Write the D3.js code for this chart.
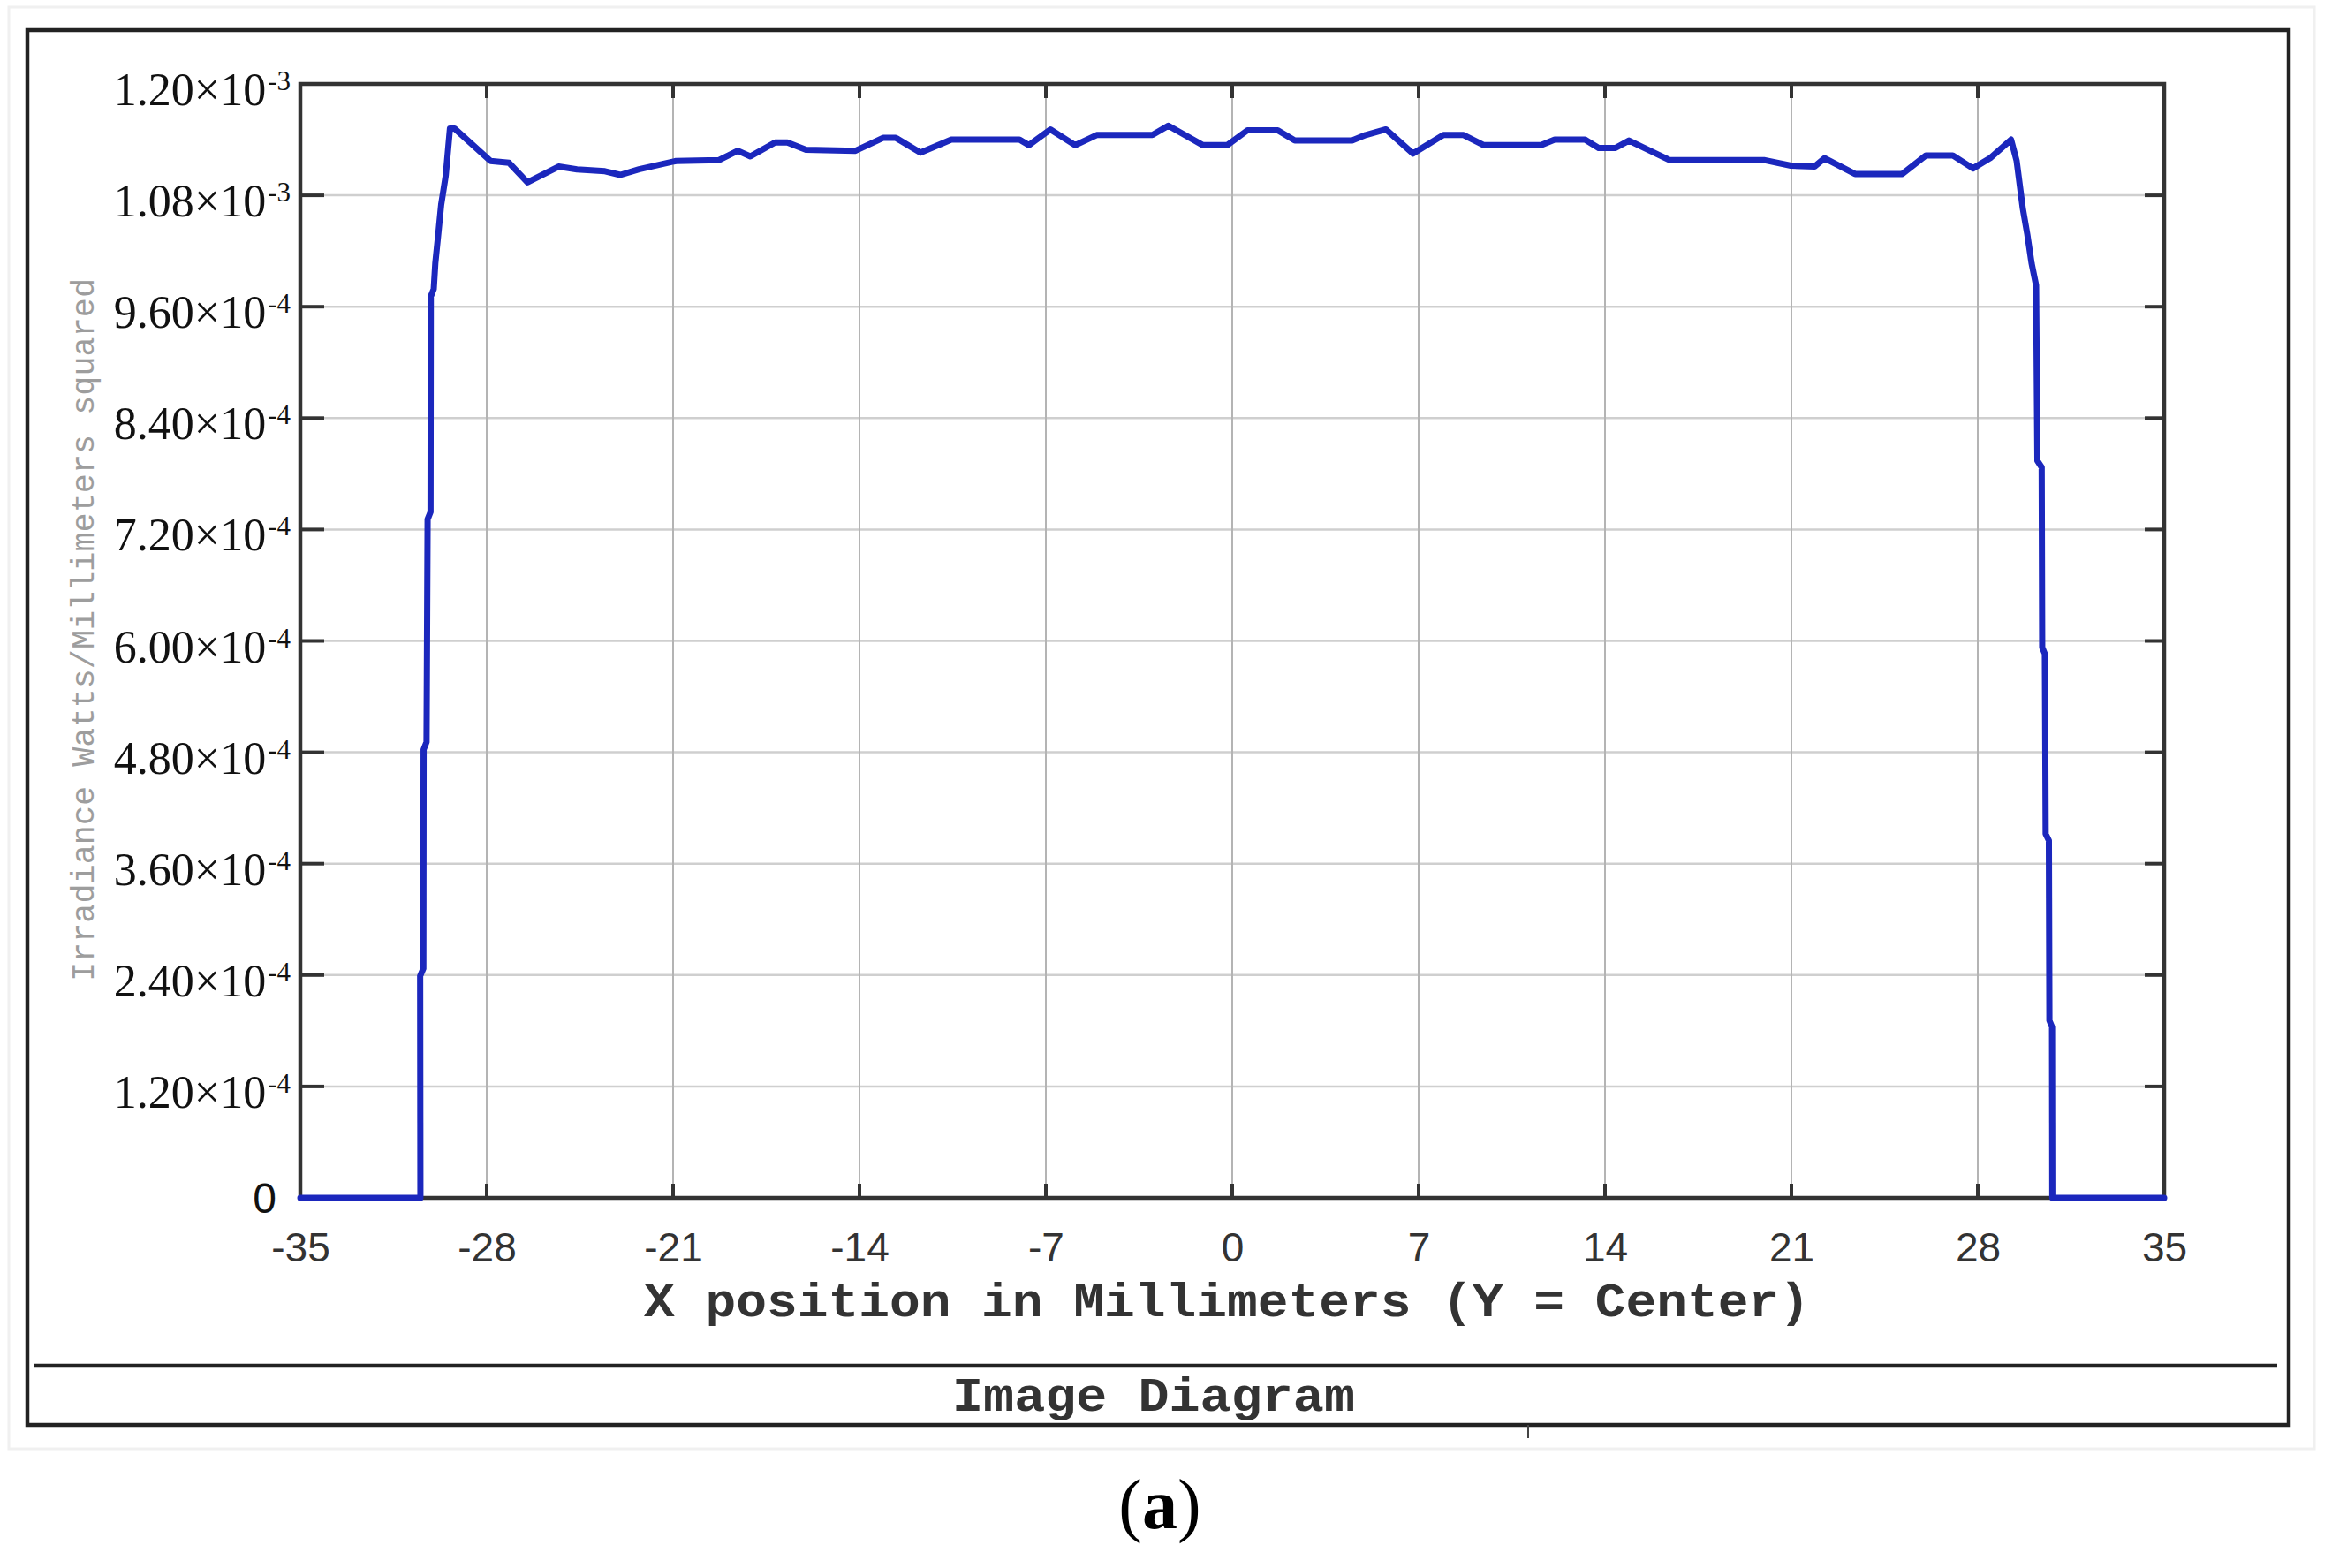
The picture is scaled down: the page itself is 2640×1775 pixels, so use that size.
<!DOCTYPE html>
<html>
<head>
<meta charset="utf-8">
<title>Image Diagram - Irradiance profile</title>
<script src="https://d3js.org/d3.v7.min.js"></script>
<style>
  body { margin: 0; background: #fff; }
</style>
</head>
<body>
<svg id="chart"></svg>
<script>
// x position (mm) of each sample of the profile
var xPos = [-35, -30.49, -30.50, -30.38, -30.37, -30.26, -30.22, -30.11, -30.10, -29.99,
  -29.93, -29.82, -29.71, -29.54, -29.44, -29.38, -29.21, -27.86, -27.16, -26.47,
  -25.30, -24.61, -23.56, -22.98, -22.28, -20.89, -19.27, -18.57, -18.10, -17.17,
  -16.71, -16.01, -14.15, -13.10, -12.64, -11.71, -10.55, -7.99, -7.64, -6.83,
  -5.90, -5.09, -3.00, -2.40, -1.10, -0.19, 0.57, 1.71, 2.35, 4.50,
  5.01, 5.77, 6.79, 7.93, 8.69, 9.45, 11.60, 12.11, 13.25, 13.76,
  14.39, 14.90, 16.42, 19.97, 20.98, 21.87, 22.25, 23.39, 25.16, 26.05,
  27.06, 27.82, 28.46, 29.25, 29.46, 29.69, 29.86, 30.02, 30.19, 30.24,
  30.40, 30.42, 30.52, 30.55, 30.67, 30.69, 30.79, 30.80, 35];

// irradiance, Watts / mm^2
var irradiance = [0, 0, 0.239e-3, 0.247e-3, 0.483e-3, 0.491e-3, 0.731e-3, 0.739e-3, 0.971e-3, 0.979e-3,
  1.007e-3, 1.038e-3, 1.070e-3, 1.101e-3, 1.133e-3, 1.152e-3, 1.152e-3, 1.117e-3, 1.115e-3, 1.094e-3,
  1.111e-3, 1.108e-3, 1.106e-3, 1.102e-3, 1.108e-3, 1.117e-3, 1.118e-3, 1.128e-3, 1.122e-3, 1.137e-3,
  1.137e-3, 1.129e-3, 1.128e-3, 1.142e-3, 1.142e-3, 1.126e-3, 1.140e-3, 1.140e-3, 1.134e-3, 1.151e-3,
  1.134e-3, 1.145e-3, 1.145e-3, 1.155e-3, 1.134e-3, 1.134e-3, 1.150e-3, 1.150e-3, 1.139e-3, 1.139e-3,
  1.145e-3, 1.151e-3, 1.125e-3, 1.145e-3, 1.145e-3, 1.134e-3, 1.134e-3, 1.140e-3, 1.140e-3, 1.131e-3,
  1.131e-3, 1.139e-3, 1.118e-3, 1.118e-3, 1.112e-3, 1.111e-3, 1.120e-3, 1.103e-3, 1.103e-3, 1.123e-3,
  1.123e-3, 1.109e-3, 1.120e-3, 1.140e-3, 1.117e-3, 1.066e-3, 1.038e-3, 1.007e-3, 0.983e-3, 0.794e-3,
  0.787e-3, 0.593e-3, 0.586e-3, 0.392e-3, 0.385e-3, 0.191e-3, 0.184e-3, 0, 0];

var xTicks = [-35, -28, -21, -14, -7, 0, 7, 14, 21, 28, 35];
var yTicks = [0, 1.2e-4, 2.4e-4, 3.6e-4, 4.8e-4, 6.0e-4, 7.2e-4, 8.4e-4, 9.6e-4, 1.08e-3, 1.2e-3];
// mantissa|exponent
var yTickText = ["0", "1.20×10|-4", "2.40×10|-4", "3.60×10|-4", "4.80×10|-4", "6.00×10|-4",
  "7.20×10|-4", "8.40×10|-4", "9.60×10|-4", "1.08×10|-3", "1.20×10|-3"];

var W = 2640, H = 1775;
var pLeft = 340, pRight = 2450, pTop = 95, pBottom = 1356;

var svg = d3.select("#chart").attr("width", W).attr("height", H);
svg.append("rect").attr("width", W).attr("height", H).attr("fill", "#fff");

var x = d3.scaleLinear().domain([-35, 35]).range([pLeft, pRight]);
var y = d3.scaleLinear().domain([0, 1.2e-3]).range([pBottom, pTop]);

// faint outer edge of the screenshot
svg.append("rect")
  .attr("x", 10).attr("y", 8).attr("width", 2610).attr("height", 1632)
  .attr("fill", "none").attr("stroke", "#f0f0f0").attr("stroke-width", 3);

// window frame
svg.append("rect")
  .attr("x", 31).attr("y", 34).attr("width", 2560).attr("height", 1579)
  .attr("fill", "none").attr("stroke", "#222").attr("stroke-width", 4.5);
svg.append("line")
  .attr("x1", 38).attr("x2", 2578).attr("y1", 1546).attr("y2", 1546)
  .attr("stroke", "#222").attr("stroke-width", 4.5);
svg.append("line")
  .attr("x1", 1730).attr("x2", 1730).attr("y1", 1613).attr("y2", 1628)
  .attr("stroke", "#444").attr("stroke-width", 2);

// grid
svg.append("g").selectAll("line")
  .data(yTicks.slice(1, -1)).enter().append("line")
  .attr("x1", pLeft).attr("x2", pRight)
  .attr("y1", function(d) { return y(d); }).attr("y2", function(d) { return y(d); })
  .attr("stroke", "#cfcfcf").attr("stroke-width", 2.5);
svg.append("g").selectAll("line")
  .data(xTicks.slice(1, -1)).enter().append("line")
  .attr("x1", function(d) { return x(d); }).attr("x2", function(d) { return x(d); })
  .attr("y1", pTop).attr("y2", pBottom)
  .attr("stroke", "#b4b4b4").attr("stroke-width", 2);

// plot border
svg.append("rect")
  .attr("x", pLeft).attr("y", pTop).attr("width", pRight - pLeft).attr("height", pBottom - pTop)
  .attr("fill", "none").attr("stroke", "#333").attr("stroke-width", 4.5);

// inward ticks
var tk = svg.append("g").attr("stroke", "#333").attr("stroke-width", 4);
xTicks.slice(1, -1).forEach(function(d) {
  tk.append("line").attr("x1", x(d)).attr("x2", x(d)).attr("y1", pTop).attr("y2", pTop + 16);
  tk.append("line").attr("x1", x(d)).attr("x2", x(d)).attr("y1", pBottom).attr("y2", pBottom - 16);
});
yTicks.slice(1, -1).forEach(function(d) {
  tk.append("line").attr("x1", pLeft).attr("x2", pLeft + 27).attr("y1", y(d)).attr("y2", y(d));
  tk.append("line").attr("x1", pRight).attr("x2", pRight - 22).attr("y1", y(d)).attr("y2", y(d));
});

// x tick labels
var xAxis = d3.axisBottom(x).tickValues(xTicks).tickSize(0).tickPadding(0)
  .tickFormat(function(d) { return String(d); });
var gx = svg.append("g").attr("transform", "translate(0," + pBottom + ")").call(xAxis);
gx.select(".domain").remove();
gx.selectAll("text")
  .attr("y", 72).attr("dy", null)
  .attr("fill", "#333")
  .style("font-family", "'Liberation Sans', Arial, sans-serif")
  .style("font-size", "46px");

// y tick labels
var gy = svg.append("g");
yTicks.forEach(function(d, i) {
  var parts = yTickText[i].split("|");
  if (parts.length === 1) {
    gy.append("text")
      .attr("x", 313).attr("y", y(d) + 17)
      .attr("text-anchor", "end")
      .attr("fill", "#111")
      .style("font-family", "'Liberation Sans', Arial, sans-serif")
      .style("font-size", "48px")
      .text(parts[0]);
    return;
  }
  var t = gy.append("text")
    .attr("x", 329).attr("y", y(d) + 24)
    .attr("text-anchor", "end")
    .attr("fill", "#111")
    .style("font-family", "'Liberation Serif', 'Times New Roman', serif")
    .style("font-size", "52px");
  t.append("tspan").text(parts[0]);
  t.append("tspan").attr("dy", -17).attr("dx", 2).style("font-size", "31px").text(parts[1]);
});

// axis titles
svg.append("text")
  .attr("x", 1389).attr("y", 1490)
  .attr("text-anchor", "middle")
  .attr("textLength", 1320).attr("lengthAdjust", "spacingAndGlyphs")
  .attr("fill", "#333")
  .style("font-family", "'Liberation Mono', 'Courier New', monospace")
  .style("font-weight", "bold")
  .style("font-size", "54px")
  .text("X position in Millimeters (Y = Center)");

svg.append("text")
  .attr("transform", "translate(106,713) rotate(-90)")
  .attr("text-anchor", "middle")
  .attr("textLength", 796).attr("lengthAdjust", "spacingAndGlyphs")
  .attr("fill", "#9d9d9d")
  .style("font-family", "'Liberation Mono', 'Courier New', monospace")
  .style("font-size", "36px")
  .text("Irradiance Watts/Millimeters squared");

svg.append("text")
  .attr("x", 1306).attr("y", 1597)
  .attr("text-anchor", "middle")
  .attr("textLength", 456).attr("lengthAdjust", "spacingAndGlyphs")
  .attr("fill", "#333")
  .style("font-family", "'Liberation Mono', 'Courier New', monospace")
  .style("font-weight", "bold")
  .style("font-size", "54px")
  .text("Image Diagram");

// caption
var cap = svg.append("text")
  .attr("x", 1313).attr("y", 1730)
  .attr("text-anchor", "middle")
  .attr("fill", "#000")
  .style("font-family", "'Liberation Serif', 'Times New Roman', serif")
  .style("font-size", "80px");
cap.append("tspan").text("(");
cap.append("tspan").style("font-weight", "bold").text("a");
cap.append("tspan").text(")");

// profile curve
var pts = xPos.map(function(v, i) { return [v, irradiance[i]]; });
var line = d3.line()
  .x(function(d) { return x(d[0]); })
  .y(function(d) { return y(d[1]); });
svg.append("path")
  .datum(pts)
  .attr("d", line)
  .attr("fill", "none")
  .attr("stroke", "#1b27bd")
  .attr("stroke-width", 7)
  .attr("stroke-linejoin", "round")
  .attr("stroke-linecap", "round");
</script>
</body>
</html>
